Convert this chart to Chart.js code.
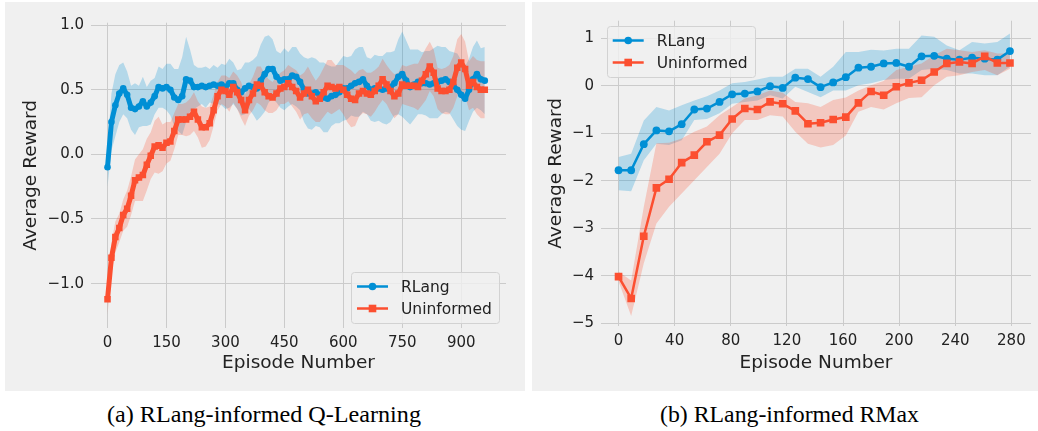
<!DOCTYPE html>
<html>
<head>
<meta charset="utf-8">
<script src="https://cdn.jsdelivr.net/npm/chart.js@4.4.1/dist/chart.umd.min.js"></script>
<style>
  html,body{margin:0;padding:0;background:#fff;overflow:hidden;width:1038px;height:431px;}
  .panel{position:absolute;background:#f0f0f0;}
  #pL{left:5px;top:2px;width:520px;height:389px;}
  #pR{left:532px;top:2px;width:506px;height:389px;}
  .cap{position:absolute;top:404.2px;font-family:'Liberation Serif';font-size:22.5px;line-height:22.5px;color:#000;white-space:nowrap;transform-origin:0 0;}
</style>
</head>
<body>
<canvas id="pL" class="panel" width="520" height="389"></canvas>
<canvas id="pR" class="panel" width="506" height="389"></canvas>
<div class="cap" id="capA" data-left="107" data-width="314">(a) RLang-informed Q-Learning</div>
<div class="cap" id="capB" data-left="660" data-width="259">(b) RLang-informed RMax</div>
<script>
// ---------- Data: (a) RLang-informed Q-Learning ----------
const episodesL = [0,10,20,30,40,50,60,70,80,90,100,110,120,130,140,150,160,170,180,190,
  200,210,220,230,240,250,260,270,280,290,300,310,320,330,340,350,360,370,380,390,
  400,410,420,430,440,450,460,470,480,490,500,510,520,530,540,550,560,570,580,590,
  600,610,620,630,640,650,660,670,680,690,700,710,720,730,740,750,760,770,780,790,
  800,810,820,830,840,850,860,870,880,890,900,910,920,930,940,950,960];
const rlangL = [-0.10,0.25,0.38,0.47,0.51,0.46,0.36,0.35,0.37,0.41,
  0.37,0.40,0.45,0.52,0.51,0.52,0.50,0.44,0.42,0.45,
  0.58,0.57,0.52,0.52,0.53,0.52,0.53,0.54,0.53,0.54,
  0.52,0.55,0.55,0.50,0.48,0.51,0.53,0.52,0.51,0.57,
  0.62,0.66,0.66,0.60,0.57,0.58,0.58,0.61,0.60,0.56,
  0.50,0.47,0.47,0.48,0.46,0.44,0.43,0.45,0.46,0.48,
  0.51,0.51,0.53,0.55,0.56,0.58,0.53,0.50,0.51,0.51,
  0.50,0.51,0.52,0.55,0.60,0.62,0.57,0.52,0.54,0.56,
  0.55,0.55,0.54,0.55,0.56,0.57,0.58,0.56,0.53,0.50,
  0.46,0.43,0.50,0.58,0.62,0.58,0.57];
const uninfL = [-1.12,-0.80,-0.64,-0.57,-0.47,-0.42,-0.32,-0.20,-0.18,-0.16,
  -0.08,-0.01,0.06,0.07,0.05,0.09,0.10,0.18,0.27,0.27,
  0.27,0.29,0.33,0.27,0.21,0.21,0.24,0.34,0.45,0.50,
  0.49,0.46,0.52,0.48,0.42,0.34,0.42,0.47,0.54,0.53,
  0.48,0.45,0.44,0.47,0.51,0.52,0.55,0.52,0.49,0.44,
  0.47,0.50,0.45,0.41,0.43,0.48,0.53,0.52,0.51,0.52,
  0.50,0.46,0.43,0.42,0.47,0.49,0.47,0.46,0.49,0.53,
  0.58,0.54,0.49,0.45,0.47,0.54,0.53,0.53,0.53,0.52,
  0.57,0.62,0.68,0.63,0.51,0.49,0.49,0.50,0.56,0.67,
  0.71,0.66,0.53,0.56,0.52,0.50,0.50];
const rlangSpreadL = [0.15,0.22,0.24,0.22,0.20,0.18,0.17,0.20,0.16,0.19,
  0.15,0.17,0.14,0.16,0.15,0.18,0.20,0.22,0.24,0.30,
  0.33,0.24,0.17,0.15,0.14,0.16,0.13,0.15,0.14,0.16,
  0.17,0.19,0.16,0.15,0.18,0.20,0.18,0.21,0.25,0.28,
  0.29,0.26,0.23,0.20,0.21,0.24,0.21,0.22,0.23,0.22,
  0.25,0.27,0.28,0.26,0.25,0.27,0.26,0.23,0.22,0.24,
  0.25,0.24,0.23,0.26,0.27,0.25,0.22,0.24,0.26,0.25,
  0.26,0.28,0.27,0.25,0.29,0.33,0.31,0.29,0.27,0.25,
  0.24,0.25,0.26,0.27,0.28,0.26,0.25,0.24,0.26,0.28,
  0.27,0.25,0.24,0.25,0.26,0.24,0.26];
const uninfSpreadL = [0.12,0.12,0.12,0.11,0.12,0.14,0.15,0.16,0.18,0.20,
  0.20,0.18,0.20,0.22,0.18,0.16,0.15,0.14,0.12,0.12,
  0.13,0.14,0.15,0.14,0.16,0.15,0.13,0.12,0.11,0.11,
  0.12,0.13,0.12,0.13,0.14,0.12,0.12,0.13,0.14,0.15,
  0.14,0.13,0.12,0.13,0.12,0.13,0.14,0.15,0.16,0.17,
  0.16,0.18,0.17,0.16,0.18,0.19,0.20,0.21,0.18,0.17,
  0.19,0.21,0.22,0.20,0.18,0.17,0.16,0.17,0.16,0.15,
  0.16,0.15,0.16,0.17,0.16,0.15,0.15,0.16,0.17,0.18,
  0.19,0.20,0.19,0.18,0.16,0.17,0.18,0.19,0.20,0.22,
  0.22,0.21,0.19,0.20,0.21,0.22,0.22];
const xTicksL = [0,150,300,450,600,750,900];
const yTicksL = [-1.0,-0.5,0.0,0.5,1.0];

// ---------- Data: (b) RLang-informed RMax ----------
const episodesR = [0,9,18,27,36,45,54,63,72,81,90,99,108,117,126,135,144,153,162,171,180,189,198,207,216,225,234,243,252,261,270,279];
const rlangR = [-1.78,-1.78,-1.23,-0.94,-0.96,-0.81,-0.50,-0.48,-0.34,-0.18,-0.165,-0.12,-0.01,-0.045,0.17,0.14,-0.03,0.07,0.18,0.38,0.40,0.47,0.48,0.40,0.62,0.63,0.57,0.55,0.59,0.57,0.55,0.73];
const rlangLoR = [-2.20,-2.22,-1.57,-1.22,-1.25,-1.15,-0.72,-0.70,-0.58,-0.38,-0.34,-0.31,-0.20,-0.27,-0.02,-0.13,-0.24,-0.10,-0.10,0.01,0.05,0.12,0.15,0.15,0.33,0.36,0.33,0.26,0.26,0.22,0.22,0.40];
const rlangHiR = [-1.50,-1.43,-0.73,-0.45,-0.52,-0.41,-0.31,-0.22,-0.10,0.05,0.08,0.13,0.19,0.19,0.36,0.36,0.19,0.40,0.71,0.71,0.76,0.74,0.78,0.78,1.06,1.03,0.85,0.75,0.92,0.89,0.92,1.10];
const uninfR = [-4.02,-4.48,-3.17,-2.15,-1.97,-1.62,-1.46,-1.18,-1.04,-0.70,-0.48,-0.50,-0.34,-0.38,-0.53,-0.80,-0.78,-0.71,-0.66,-0.36,-0.12,-0.20,-0.02,0.06,0.115,0.29,0.47,0.50,0.47,0.62,0.48,0.48];
const uninfLoR = [-4.12,-4.85,-3.74,-2.90,-2.55,-2.27,-1.99,-1.71,-1.43,-1.00,-0.72,-0.72,-0.62,-0.65,-0.97,-1.22,-1.30,-1.25,-1.05,-0.55,-0.45,-0.50,-0.37,-0.26,-0.24,0.01,0.19,0.22,0.29,0.33,0.22,0.36];
const uninfHiR = [-3.92,-4.10,-2.55,-1.21,-1.20,-1.11,-0.97,-0.86,-0.62,-0.45,-0.27,-0.20,-0.10,-0.15,-0.34,-0.37,-0.45,-0.30,-0.25,-0.10,0.01,0.10,0.33,0.40,0.47,0.64,0.78,0.75,0.71,0.75,0.68,0.68];
const xTicksR = [0,40,80,120,160,200,240,280];
const yTicksR = [-5,-4,-3,-2,-1,0,1];

const seriesNames = ['RLang','Uninformed'];

// ---------- Styling ----------
const BLUE = '#008fd5', RED = '#fc4f30';
const BLUE_BAND = 'rgba(0,143,213,0.25)', RED_BAND = 'rgba(252,79,48,0.25)';
const GRID = '#cbcbcb', TXT = '#222222';
const FAM = "'DejaVu Sans', sans-serif";
Chart.defaults.font.family = FAM;
Chart.defaults.color = TXT;

const pts = (xs, ys) => xs.map((x, i) => ({x: x, y: ys[i]}));
const minus = s => String(s).replace('-', '\u2212');

const cornerLegend = {
  id: 'cornerLegend',
  afterDraw(chart, args, o) {
    const {ctx, chartArea: a} = chart;
    const w = o.w, h = o.h;
    const x0 = o.corner === 'br' ? a.right - o.dx - w : a.left + o.dx;
    const y0 = o.corner === 'br' ? a.bottom - o.dy - h : a.top + o.dy;
    ctx.save();
    ctx.beginPath();
    ctx.roundRect(Math.round(x0) + 0.5, Math.round(y0) + 0.5, w, h, 3);
    ctx.fillStyle = 'rgba(240,240,240,0.8)';
    ctx.fill();
    ctx.strokeStyle = '#d2d2d2';
    ctx.lineWidth = 1;
    ctx.stroke();
    const entries = [
      {label: seriesNames[0], color: BLUE, style: 'circle'},
      {label: seriesNames[1], color: RED, style: 'rect'}
    ];
    entries.forEach((e, i) => {
      const yy = y0 + 14.5 + i * 22;
      ctx.strokeStyle = e.color; ctx.fillStyle = e.color; ctx.lineWidth = 2.5;
      ctx.beginPath(); ctx.moveTo(x0 + 6, yy); ctx.lineTo(x0 + 37, yy); ctx.stroke();
      const cx = x0 + 21.5;
      if (e.style === 'circle') { ctx.beginPath(); ctx.arc(cx, yy, 3.8, 0, Math.PI * 2); ctx.fill(); }
      else { ctx.fillRect(cx - 3.8, yy - 3.8, 7.6, 7.6); }
      ctx.fillStyle = TXT;
      ctx.font = '15.5px ' + FAM;
      ctx.textBaseline = 'middle';
      ctx.textAlign = 'left';
      ctx.fillText(e.label, x0 + 50, yy + 1);
    });
    ctx.restore();
  }
};

function bandSets(xs, lo, hi, color, orderBase) {
  return [
    {label: '_lo', data: pts(xs, lo), borderWidth: 0, pointRadius: 0, fill: false, order: orderBase + 1, borderColor: 'rgba(0,0,0,0)'},
    {label: '_hi', data: pts(xs, hi), borderWidth: 0, pointRadius: 0, fill: '-1', backgroundColor: color, order: orderBase, borderColor: 'rgba(0,0,0,0)'}
  ];
}
function lineSet(label, xs, ys, color, style, order, m) {
  return {label: label, data: pts(xs, ys), borderColor: color, backgroundColor: color, borderWidth: m.lw,
    pointRadius: style === 'rect' ? m.sq : m.dot, pointStyle: style, pointBorderWidth: 0,
    pointBackgroundColor: color, fill: false, tension: 0, order: order,
    borderJoinStyle: 'round', borderCapStyle: 'round'};
}

function makeChart(id, cfg) {
  const {xs, s1, s1lo, s1hi, s2, s2lo, s2hi, xmin, xmax, ymin, ymax, xt, yt, yfmt,
         padRight, padTop, yWidth, xHeight, yTitlePad, legend, marks} = cfg;
  return new Chart(document.getElementById(id), {
    type: 'line',
    data: {datasets: [
      ...bandSets(xs, s1lo, s1hi, BLUE_BAND, 10),
      ...bandSets(xs, s2lo, s2hi, RED_BAND, 8),
      lineSet(seriesNames[0], xs, s1, BLUE, 'circle', 1, marks),
      lineSet(seriesNames[1], xs, s2, RED, 'rect', 0, marks)
    ]},
    options: {
      responsive: false, animation: false, devicePixelRatio: 1,
      layout: {padding: {left: 0, right: padRight, top: padTop, bottom: 0}},
      plugins: {legend: {display: false}, tooltip: {enabled: false}, cornerLegend: legend},
      scales: {
        x: {
          type: 'linear', min: xmin, max: xmax,
          afterBuildTicks: s => { s.ticks = xt.map(v => ({value: v})); },
          afterFit: s => { s.height = xHeight; },
          grid: {color: GRID, lineWidth: 1, drawTicks: false},
          border: {display: false},
          ticks: {padding: 6, font: {size: 15}, color: TXT, maxRotation: 0, callback: v => minus(v)},
          title: {display: true, text: 'Episode Number', font: {size: 18.5}, color: TXT, padding: {top: 0, bottom: 17}}
        },
        y: {
          type: 'linear', min: ymin, max: ymax,
          afterBuildTicks: s => { s.ticks = yt.map(v => ({value: v})); },
          afterFit: s => { s.width = yWidth; },
          grid: {color: GRID, lineWidth: 1, drawTicks: false},
          border: {display: false},
          ticks: {padding: 7, font: {size: 15}, color: TXT, callback: v => minus(yfmt(v))},
          title: {display: true, text: 'Average Reward', font: {size: 18.5}, color: TXT, padding: {top: yTitlePad, bottom: 0}}
        }
      }
    },
    plugins: [cornerLegend]
  });
}

const loOf = (v, s) => v.map((y, i) => +(y - s[i]).toFixed(3));
const hiOf = (v, s) => v.map((y, i) => +(y + s[i]).toFixed(3));

makeChart('pL', {
  xs: episodesL,
  s1: rlangL, s1lo: loOf(rlangL, rlangSpreadL), s1hi: hiOf(rlangL, rlangSpreadL),
  s2: uninfL, s2lo: loOf(uninfL, uninfSpreadL), s2hi: hiOf(uninfL, uninfSpreadL),
  xmin: -42, xmax: 1014, ymin: -1.343, ymax: 1.018, xt: xTicksL, yt: yTicksL,
  yfmt: v => v.toFixed(1),
  padRight: 19, padTop: 20.7, yWidth: 86, xHeight: 63, yTitlePad: 15,
  legend: {corner: 'br', dx: 7, dy: 5, w: 148, h: 51},
  marks: {lw: 5, dot: 3.3, sq: 4.6}
});
makeChart('pR', {
  xs: episodesR,
  s1: rlangR, s1lo: rlangLoR, s1hi: rlangHiR,
  s2: uninfR, s2lo: uninfLoR, s2hi: uninfHiR,
  xmin: -12.5, xmax: 294, ymin: -5.06, ymax: 1.37, xt: xTicksR, yt: yTicksR,
  yfmt: v => String(v),
  padRight: 7, padTop: 18.7, yWidth: 69, xHeight: 65, yTitlePad: 13,
  legend: {corner: 'tl', dx: 5.7, dy: 5.3, w: 148, h: 51},
  marks: {lw: 2.5, dot: 3.9, sq: 5.4}
});

// captions: fit to measured widths
document.querySelectorAll('.cap').forEach(el => {
  const target = +el.dataset.width;
  const w = el.getBoundingClientRect().width;
  el.style.left = el.dataset.left + 'px';
  el.style.transform = 'scaleX(' + (target / w).toFixed(4) + ')';
});
</script>
</body>
</html>
